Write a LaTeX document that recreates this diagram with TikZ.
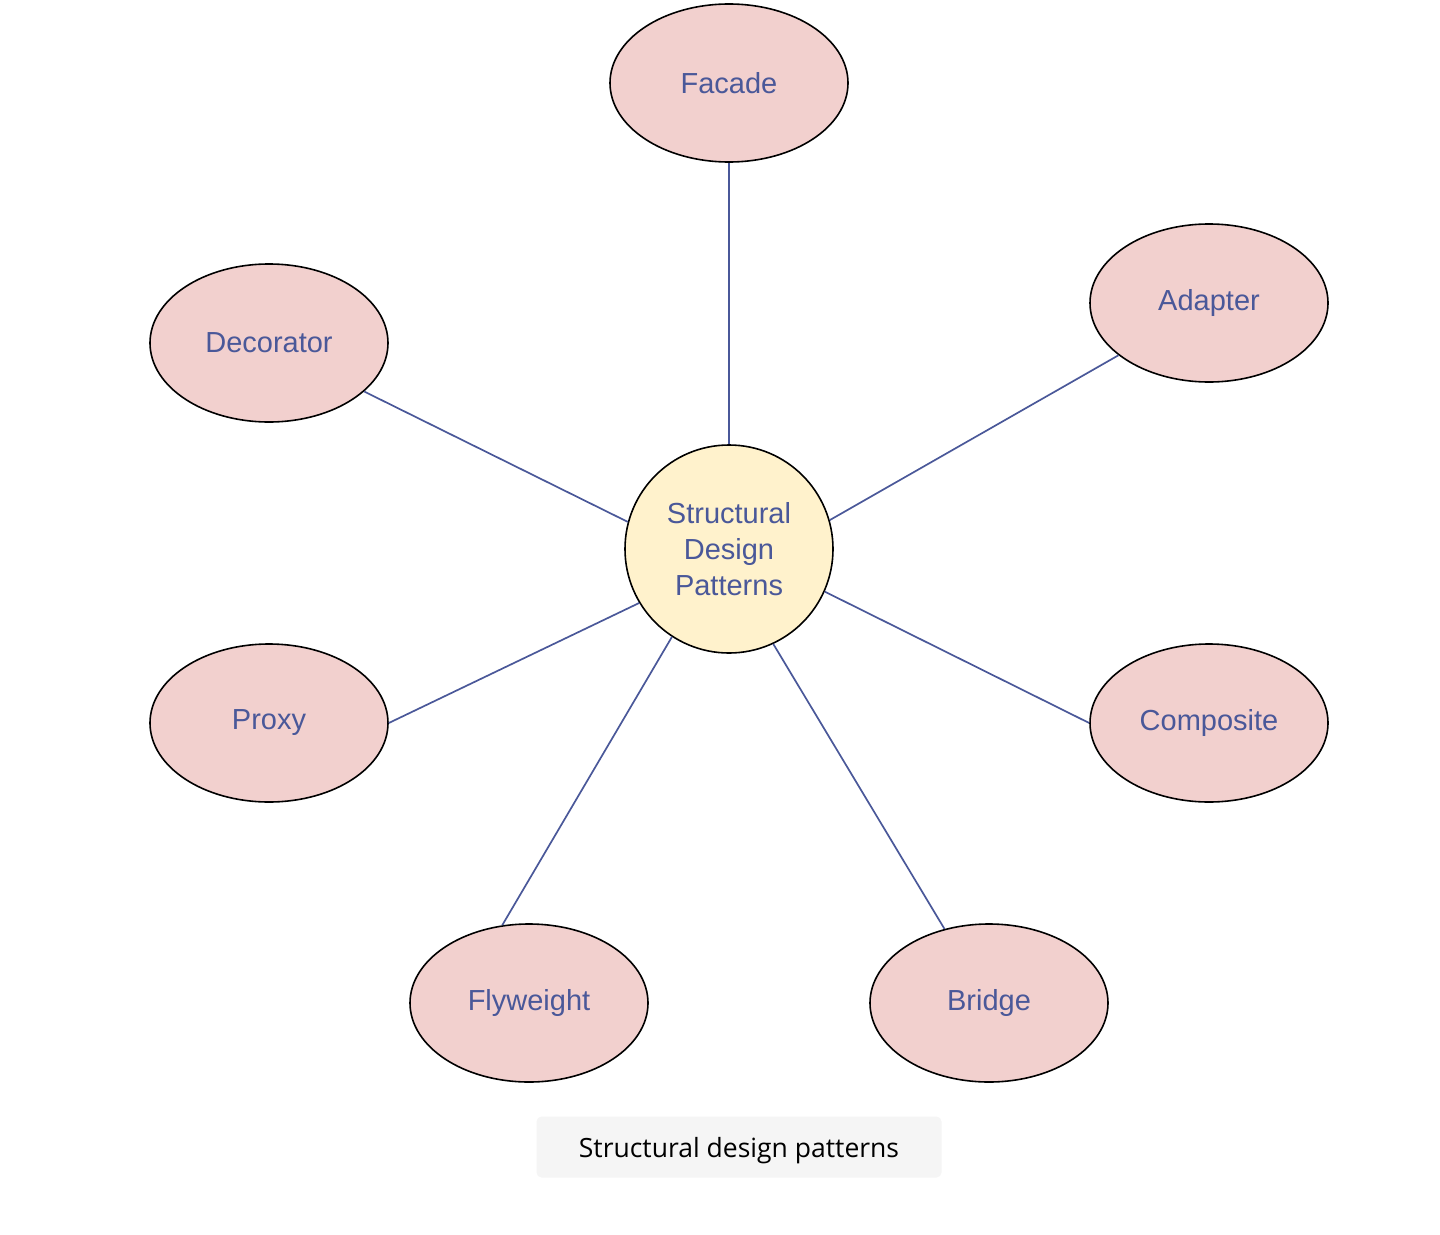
\documentclass[tikz,border=0pt]{standalone}
\usepackage{fontspec}
\setmainfont{Liberation Sans}
\newfontfamily\legendefont{Open Sans}
\usepackage{tikz}
\usepackage{xcolor}
\usetikzlibrary{shapes.geometric}
\definecolor{rosepale}{HTML}{F2D0CE}
\definecolor{jaunepale}{HTML}{FFF2CC}
\definecolor{bleuencre}{HTML}{4A5899}
\definecolor{grisfond}{HTML}{F5F5F5}
\tikzset{
Patron/.style={
 ellipse, 
 draw=black, 
 line width=1.6pt, 
 fill=rosepale, 
 minimum width=238pt, 
 minimum height=158pt, 
 text=bleuencre, 
 font=\fontsize{29}{36}\selectfont
 },
Coeur/.style={
 circle, 
 draw=black, 
 line width=1.6pt, 
 fill=jaunepale, 
 minimum size=208pt, 
 inner sep=0pt, 
 align=center, 
 text=bleuencre, 
 font=\fontsize{29}{36}\selectfont
 },
Lien/.style={
 draw=bleuencre, 
 line width=1.7pt
 },
Legende/.style={
 fill=grisfond, 
 rounded corners=5pt, 
 minimum width=405pt, 
 minimum height=61pt, 
 text height=24pt, 
 text depth=4pt, 
 font=\legendefont\fontsize{26.5}{32}\selectfont
 }
}

\begin{document}
\begin{tikzpicture}[x=1pt,y=-1pt]
\useasboundingbox (0,0) rectangle (1440,1234);
\node[Coeur] (hub) at (729,549) {Structural\\Design\\Patterns};
\node[Patron] (facade) at (729,83) {Facade};
\node[Patron] (adapter) at (1209,303) {Adapter};
\node[Patron] (decorator) at (269,343) {Decorator};
\node[Patron] (proxy) at (269,723) {Proxy};
\node[Patron] (composite) at (1209,723) {Composite};
\node[Patron] (flyweight) at (529,1003) {Flyweight};
\node[Patron] (bridge) at (989,1003) {Bridge};
\draw[Lien] (hub.90) -- (facade.south);
\draw[Lien] (hub.16.5) -- (adapter.210);
\draw[Lien] (hub.165) -- (decorator.333);
\draw[Lien] (hub.211) -- (proxy.east);
\draw[Lien] (hub.336) -- (composite.west);
\draw[Lien] (hub.237.5) -- (flyweight.109.5);
\draw[Lien] (hub.295) -- (bridge.121);
\node[Legende] (titre) at (739,1147) {Structural design patterns};
\end{tikzpicture}
\end{document}
